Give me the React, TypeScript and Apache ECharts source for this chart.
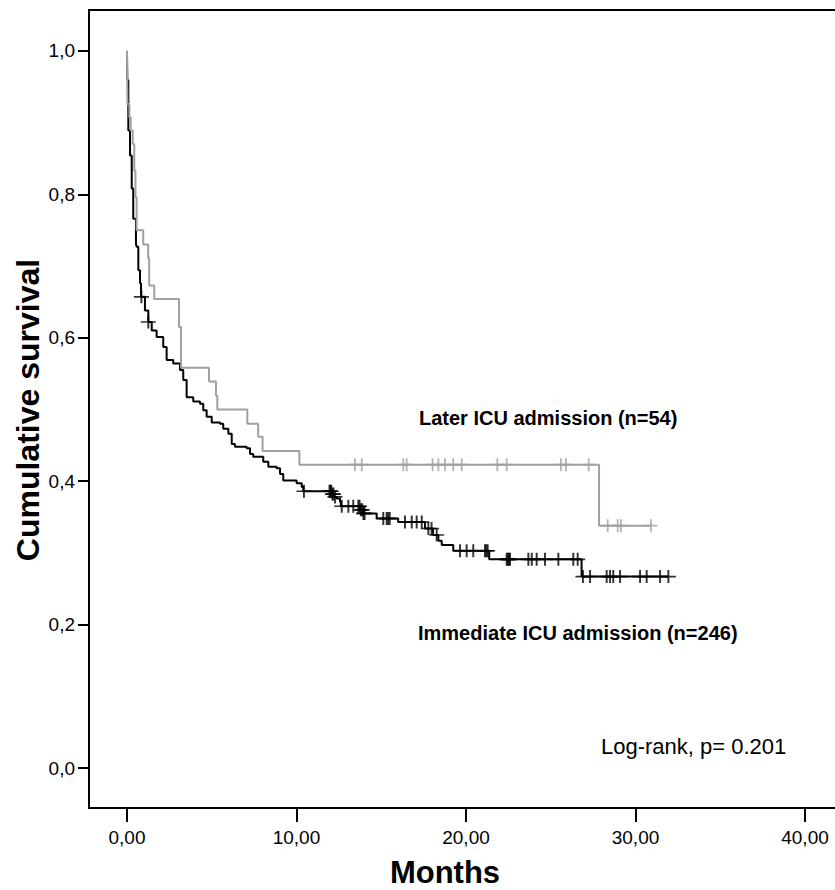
import React, { useEffect, useRef } from "react";
import * as echarts from "echarts";

// Kaplan-Meier steps: [time in months, survival after the step]
const immediateSteps: number[][] = [
  [0, 1.0], [0.02, 0.959], [0.08, 0.889], [0.18, 0.854], [0.28, 0.808], [0.37, 0.766],
  [0.53, 0.731], [0.57, 0.727], [0.67, 0.694], [0.77, 0.676], [0.83, 0.657], [1.06, 0.638],
  [1.26, 0.622], [1.46, 0.61], [1.75, 0.601], [2.14, 0.587], [2.34, 0.569], [2.73, 0.564],
  [3.13, 0.555], [3.32, 0.541], [3.52, 0.517], [3.91, 0.511], [4.31, 0.508], [4.5, 0.499],
  [4.7, 0.49], [5.0, 0.482], [5.49, 0.48], [5.68, 0.473], [5.98, 0.466], [6.18, 0.452],
  [6.37, 0.448], [7.06, 0.446], [7.26, 0.438], [7.45, 0.434], [8.04, 0.427], [8.34, 0.42],
  [8.83, 0.418], [9.03, 0.41], [9.22, 0.401], [10.01, 0.397], [10.31, 0.392], [10.4, 0.386],
  [12.1, 0.382], [12.2, 0.378], [12.37, 0.376], [12.57, 0.371], [12.62, 0.365], [13.75, 0.36],
  [13.94, 0.355], [14.73, 0.348], [16.0, 0.343], [17.58, 0.334], [18.05, 0.325], [18.37, 0.317],
  [18.57, 0.311], [19.25, 0.303], [21.37, 0.291], [26.82, 0.267],
];
const immediateEnd = 31.94;
const immediateCensored: number[] = [
  0.85, 1.26, 10.44, 11.95, 12.0, 12.05, 12.12, 12.18, 12.27, 12.67, 13.06, 13.35, 13.65, 13.72,
  13.8, 13.88, 13.95, 14.02, 15.12, 15.32, 15.41, 15.5, 16.4, 16.8, 17.09, 17.39, 17.78, 17.97,
  18.27, 19.65, 20.04, 20.43, 21.12, 21.2, 21.28, 22.4, 22.47, 22.53, 22.6, 23.68, 23.88, 24.17,
  24.66, 25.45, 26.33, 26.59, 26.9, 27.32, 28.3, 28.5, 28.69, 29.09, 30.27, 30.66, 31.45, 31.94,
];

const laterSteps: number[][] = [
  [0, 1.0], [0.03, 0.926], [0.14, 0.907], [0.22, 0.889], [0.34, 0.87], [0.43, 0.833],
  [0.5, 0.796], [0.57, 0.75], [0.96, 0.73], [1.25, 0.711], [1.31, 0.673], [1.61, 0.654],
  [3.07, 0.615], [3.19, 0.558], [4.84, 0.539], [5.25, 0.519], [5.33, 0.5], [7.1, 0.48],
  [7.74, 0.462], [8.0, 0.442], [10.17, 0.423], [27.85, 0.338],
];
const laterEnd = 30.91;
const laterCensored: number[] = [
  13.45, 13.85, 16.3, 16.5, 18.03, 18.37, 18.76, 19.25, 19.75, 21.85, 22.4, 25.6, 25.9, 27.24,
  28.36, 28.95, 29.14, 30.91,
];

const xTicks = [0, 10, 20, 30, 40];
const yTicks = [0, 0.2, 0.4, 0.6, 0.8, 1.0];

const labelLater = "Later ICU admission (n=54)";
const labelImmediate = "Immediate ICU admission (n=246)";
const labelLogRank = "Log-rank, p= 0.201";
const xTitle = "Months";
const yTitle = "Cumulative survival";

const FONT = '"Liberation Sans", Arial, Helvetica, sans-serif';

function stepAt(steps: number[][], t: number): number {
  let s = steps[0][1];
  for (const [x, y] of steps) if (x <= t) s = y;
  return s;
}

const plus = "path://M7,0L7,13M0,6.5L14,6.5";

export default function App() {
  const ref = useRef<HTMLDivElement>(null);
  useEffect(() => {
    if (!ref.current) return;
    const chart = echarts.init(ref.current, null, { renderer: "svg" });
    const immLine = [...immediateSteps, [immediateEnd, immediateSteps[immediateSteps.length - 1][1]]];
    const latLine = [...laterSteps, [laterEnd, laterSteps[laterSteps.length - 1][1]]];
    chart.setOption({
      animation: false,
      backgroundColor: "#fff",
      textStyle: { fontFamily: FONT },
      grid: {
        left: 89, top: 10, right: 0, bottom: 82,
        show: true, borderColor: "#000", borderWidth: 2,
      },
      xAxis: {
        type: "value", min: -2.24, max: 42.36,
        axisLine: { show: true, onZero: false, lineStyle: { color: "#000", width: 2 } },
        axisTick: { show: true, customValues: xTicks, length: 14, lineStyle: { color: "#000", width: 2 } },
        axisLabel: {
          customValues: xTicks, color: "#000", fontSize: 19, fontFamily: FONT, margin: 20,
          formatter: (v: number) => v.toFixed(2).replace(".", ","),
        },
        splitLine: { show: false },
      },
      yAxis: {
        type: "value", min: -0.0557, max: 1.057,
        axisLine: { show: true, onZero: false, lineStyle: { color: "#000", width: 2 } },
        axisTick: { show: true, customValues: yTicks, length: 11, lineStyle: { color: "#000", width: 2 } },
        axisLabel: {
          customValues: yTicks, color: "#000", fontSize: 19, fontFamily: FONT, margin: 14,
          formatter: (v: number) => v.toFixed(1).replace(".", ","),
        },
        splitLine: { show: false },
      },
      series: [
        {
          type: "line", data: immLine, step: "end", showSymbol: false, silent: true, z: 2,
          lineStyle: { color: "#000", width: 2 },
        },
        {
          type: "scatter", silent: true, z: 2,
          data: immediateCensored.map((t) => [t, stepAt(immediateSteps, t)]),
          symbol: plus, symbolSize: [15, 13],
          itemStyle: { color: "rgba(0,0,0,0)", borderColor: "#000", borderWidth: 1.8 },
        },
        {
          type: "line", data: latLine, step: "end", showSymbol: false, silent: true, z: 3,
          lineStyle: { color: "#a0a0a0", width: 2 },
        },
        {
          type: "scatter", silent: true, z: 3,
          data: laterCensored.map((t) => [t, stepAt(laterSteps, t)]),
          symbol: plus, symbolSize: [13, 13],
          itemStyle: { color: "rgba(0,0,0,0)", borderColor: "#a0a0a0", borderWidth: 1.8 },
        },
      ],
      graphic: [
        {
          type: "text", x: 419, y: 418,
          style: { text: labelLater, font: `bold 20px ${FONT}`, fill: "#000", verticalAlign: "middle" },
        },
        {
          type: "text", x: 418, y: 633,
          style: { text: labelImmediate, font: `bold 20px ${FONT}`, fill: "#000", verticalAlign: "middle" },
        },
        {
          type: "text", x: 601, y: 746,
          style: { text: labelLogRank, font: `22px ${FONT}`, fill: "#000", verticalAlign: "middle" },
        },
        {
          type: "text", x: 445, y: 872,
          style: { text: xTitle, font: `bold 31px ${FONT}`, fill: "#000", align: "center", verticalAlign: "middle" },
        },
        {
          type: "text", x: 28, y: 410, rotation: Math.PI / 2,
          style: { text: yTitle, font: `bold 32px ${FONT}`, fill: "#000", align: "center", verticalAlign: "middle" },
        },
      ],
    });
    return () => chart.dispose();
  }, []);
  return (
    <div style={{ position: "fixed", left: 0, top: 0, width: 835, height: 890, overflow: "hidden", background: "#fff" }}>
      <div ref={ref} style={{ position: "absolute", left: 0, top: 0, width: 845, height: 890 }} />
    </div>
  );
}
